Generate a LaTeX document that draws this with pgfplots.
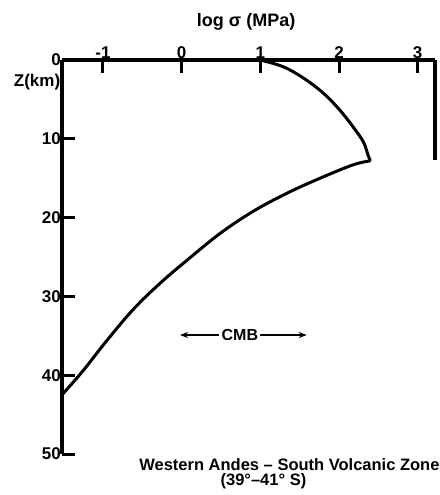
\documentclass[border=0pt]{standalone}
\usepackage{pgfplots}
\pgfplotsset{compat=1.18}
\usepackage{fontspec}
\setmainfont{Liberation Sans}
\usetikzlibrary{arrows.meta}
\begin{document}
\begin{tikzpicture}
\begin{axis}[name=ax, scale only axis, width=373pt, height=394pt,
  xmin=-1.52, xmax=3.22, ymin=0, ymax=50, y dir=reverse,
  axis x line*=top, axis y line*=left,
  axis line style={line width=3.5pt, black},
  xtick={-1,0,1,2,3}, ytick={0,10,20,30,40,50},
  tick align=inside, major tick length=13pt,
  tick style={line width=3pt, black},
  ticklabel style={font=\fontsize{17}{17}\selectfont\bfseries},
  /pgf/number format/assume math mode=true,
  xticklabel style={inner sep=1pt},
  yticklabel style={inner sep=1pt},
  clip=false,
  ]
\addplot[line width=3pt, smooth, tension=0.6] coordinates {
 (1.0,0) (1.29,0.85) (1.55,2.3) (1.80,4.2) (2.01,6.35) (2.18,8.5) (2.31,10.4) (2.37,12.1) (2.40,12.8)};
\addplot[line width=3pt, smooth, tension=0.6] coordinates {
 (2.40,12.8) (2.18,13.3) (1.76,15.0) (1.34,16.9) (0.91,19.2) (0.49,22.0) (0.07,25.4) (-0.27,28.3) (-0.61,31.6) (-0.95,35.6) (-1.25,39.4) (-1.52,42.5)};
\addplot[line width=3.5pt] coordinates {(3.22,0) (3.22,12.7)};
\node[font=\fontsize{18}{18}\selectfont\bfseries] at (axis cs:0.82,-4.8) {log σ (MPa)};
\node[anchor=east, inner sep=0pt, font=\fontsize{17}{17}\selectfont\bfseries] at (axis cs:-1.54,2.8) {Z(km)};
\draw[line width=2pt, -{Stealth[length=8pt,width=6pt]}] (axis cs:0.47,34.9) -- (axis cs:-0.02,34.9);
\draw[line width=2pt, -{Stealth[length=8pt,width=6pt]}] (axis cs:1.00,34.9) -- (axis cs:1.59,34.9);
\node[font=\fontsize{16}{16}\selectfont\bfseries] at (axis cs:0.74,34.9) {CMB};
\node[inner sep=0pt, font=\fontsize{16.5}{16.5}\selectfont\bfseries] at (axis cs:1.37,51.3) {Western Andes – South Volcanic Zone};
\node[inner sep=0pt, font=\fontsize{16.5}{16.5}\selectfont\bfseries] at (axis cs:1.04,53.5) {(39°–41° S)};
\end{axis}
\pgfresetboundingbox
\path[use as bounding box] ([shift={(-62pt,60pt)}]ax.north west) rectangle ([shift={(377pt,-435pt)}]ax.north west);
\end{tikzpicture}
\end{document}
